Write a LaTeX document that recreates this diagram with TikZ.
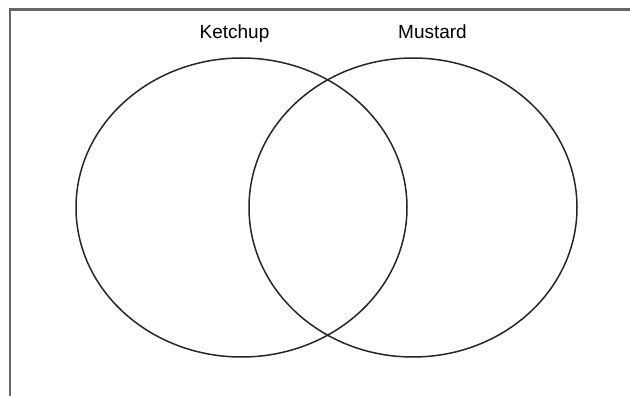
\documentclass[tikz,border=0pt]{standalone}
\usepackage{fontspec}
\setmainfont{Liberation Sans}
\usetikzlibrary{shapes.geometric}
\begin{document}
\begin{tikzpicture}[x=1pt,y=-1pt,
  setring/.style={draw=black!85,line width=1.5pt},
  setlabel/.style={anchor=base,font=\fontsize{19}{23}\selectfont,inner sep=0pt}]
\useasboundingbox (0,0) rectangle (630,396);
\draw[black!60,line width=2.5pt] (10,396) -- (10,9.5) -- (630,9.5);
\node[setring,ellipse,minimum width=331pt,minimum height=299pt,inner sep=0pt] (ketchup) at (241.5,207.5) {};
\node[setring,ellipse,minimum width=328pt,minimum height=299pt,inner sep=0pt] (mustard) at (413,207.5) {};
\node[setlabel] (kl) at (234.5,38.5) {Ketchup};
\node[setlabel] (ml) at (432.5,38.5) {Mustard};
\end{tikzpicture}
\end{document}
